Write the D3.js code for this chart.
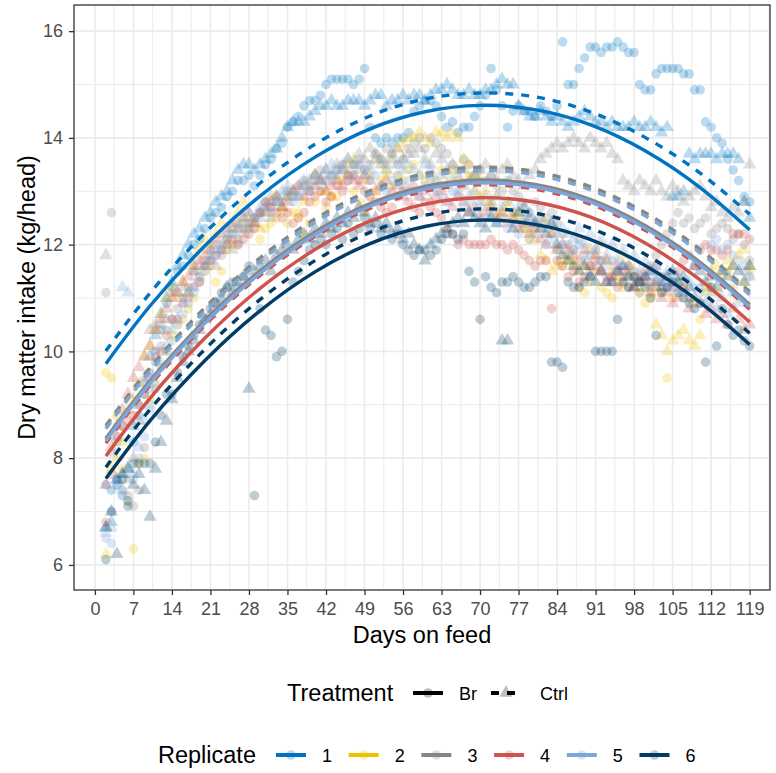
<!DOCTYPE html>
<html>
<head>
<meta charset="utf-8">
<script src="https://cdn.jsdelivr.net/npm/d3@7"></script>
<style>
  body { margin: 0; background: #fff; }
  text { font-family: "Liberation Sans", Arial, sans-serif; }
</style>
</head>
<body>
<div id="chart"></div>
<script>
// ---- data ----
const replicates = ["1", "2", "3", "4", "5", "6"];
const treatments = ["Br", "Ctrl"];
const repColors = ["#0073C2", "#EFC000", "#868686", "#CD534C", "#7AA6DC", "#003C67"];
const xTicks = [0, 7, 14, 21, 28, 35, 42, 49, 56, 63, 70, 77, 84, 91, 98, 105, 112, 119];
const yTicks = [6, 8, 10, 12, 14, 16];
const firstDay = 2; // daily observations start on day 2

// daily intake, days 2..119
const br1 = [7.5,7.4,7.5,7.3,7.2,8.3,8.8,9.2,9.6,10.0,10.4,10.9,11.2,11.5,
  11.6,11.8,12.0,12.1,12.3,12.5,12.6,12.7,12.9,13.0,13.2,13.2,13.3,13.1,
  13.3,13.5,13.6,13.8,13.9,14.2,14.3,14.4,14.6,14.7,14.7,14.8,15.0,15.1,
  15.1,15.1,15.1,15.0,15.1,15.3,14.2,14.0,13.9,14.0,13.9,14.0,14.0,14.1,
  14.5,14.6,14.7,14.7,14.6,14.4,14.2,14.3,14.1,14.2,14.2,14.4,14.6,14.8,
  15.3,14.9,14.6,14.2,14.5,14.6,14.5,14.5,14.4,14.6,14.5,14.4,14.6,15.8,
  15.0,15.0,15.3,15.5,15.7,15.7,15.6,15.7,15.7,15.8,15.7,15.6,15.6,15.0,
  14.9,14.9,15.2,15.3,15.3,15.3,15.3,15.2,15.2,14.9,14.9,14.3,14.2,14.0,
  13.9,13.6,13.4,13.2,12.9,12.8];
const ctrl1 = [6.7,6.8,7.6,7.7,7.8,8.6,9.0,9.4,9.9,10.3,10.7,11.0,11.3,11.6,
  11.8,12.0,12.2,12.3,12.5,12.6,12.8,12.9,13.0,13.2,13.4,13.5,13.5,13.4,
  13.5,13.6,13.7,13.8,14.0,14.2,14.3,14.3,14.3,14.4,14.5,14.6,14.6,14.7,
  14.6,14.6,14.7,14.7,14.7,14.6,14.7,14.8,14.8,14.6,14.7,14.7,14.8,14.7,
  14.8,14.8,14.7,14.8,14.9,14.9,15.0,14.9,14.8,14.8,14.9,14.8,14.8,14.9,
  14.9,15.0,15.1,15.0,15.0,14.6,14.5,14.4,14.4,14.5,14.4,14.3,14.4,14.3,
  14.2,14.3,14.4,14.5,14.4,14.3,14.3,14.2,14.3,14.2,14.2,14.2,14.3,14.2,
  14.2,14.3,14.2,14.1,14.2,12.9,12.9,13.0,13.7,13.6,13.7,13.7,13.7,13.6,
  13.7,13.7,13.7,13.6,12.8,12.5];
const br2 = [9.6,9.5,8.8,7.8,7.2,6.3,7.9,8.0,9.1,9.4,9.7,10.0,10.3,10.5,
  10.6,10.8,11.0,11.3,11.5,11.6,11.3,11.5,11.9,12.0,12.4,12.4,12.3,12.5,
  12.1,12.3,12.4,12.5,12.6,12.4,12.6,12.5,12.2,12.4,12.8,13.0,12.7,12.9,
  12.9,13.2,13.3,13.0,12.8,12.6,12.9,13.0,13.2,13.3,13.1,13.3,13.2,13.4,
  13.5,13.3,13.2,13.3,13.2,13.4,13.3,13.4,13.2,13.1,13.3,13.0,12.9,12.8,
  12.7,12.6,12.5,12.8,12.6,12.5,12.3,12.1,12.3,12.5,12.4,12.2,11.9,11.6,
  11.7,11.6,11.2,11.1,11.3,11.5,11.2,11.1,11.0,11.3,11.2,11.4,11.2,11.1,
  10.9,11.0,11.2,11.1,9.5,11.0,11.3,11.2,11.0,10.9,10.6,11.1,11.2,11.1,
  11.4,11.5,11.2,11.0,11.3,11.5];
const ctrl2 = [6.2,7.8,8.0,8.3,8.9,9.1,9.4,9.9,10.1,10.4,10.7,11.0,11.2,11.0,
  11.3,11.1,11.6,11.9,12.1,12.0,12.2,12.4,12.1,12.3,12.6,12.8,12.5,12.4,
  12.3,12.6,12.8,12.9,12.7,12.9,13.0,12.6,12.8,13.1,13.3,13.2,13.0,12.9,
  13.2,13.4,13.5,13.6,13.4,13.2,13.3,13.6,13.5,13.4,13.6,13.8,13.9,14.0,
  14.0,14.1,14.0,13.9,14.1,14.1,14.0,14.1,14.0,13.6,13.5,13.3,13.2,13.0,
  12.8,12.9,12.6,12.7,12.5,12.6,12.3,12.2,12.1,11.8,11.7,11.5,11.6,11.7,
  11.8,11.7,11.5,11.6,11.9,11.8,12.0,11.7,11.5,11.4,11.8,11.6,11.5,11.3,
  11.2,11.1,10.5,10.3,10.0,10.2,10.3,10.4,10.2,10.1,10.3,11.2,11.5,11.6,
  11.5,11.7,11.6,11.8,11.9,11.6];
const br3 = [11.1,12.6,8.3,8.6,7.3,7.1,7.4,8.2,9.3,9.8,10.1,10.4,10.6,10.8,
  11.0,11.2,11.5,11.4,11.7,11.9,12.0,11.8,12.1,12.2,12.0,12.3,12.4,12.5,
  12.6,12.8,12.7,12.9,12.8,13.0,12.9,13.1,13.2,13.0,13.3,13.4,13.2,13.3,
  13.4,13.5,13.3,13.5,13.6,13.4,13.5,13.7,13.6,13.8,13.7,13.5,13.6,13.8,
  13.9,14.0,13.8,14.0,13.9,13.8,13.7,13.5,13.4,13.6,13.5,13.3,13.4,13.2,
  13.3,13.1,13.0,13.2,13.0,12.9,12.8,12.6,12.8,12.7,12.5,12.6,12.4,12.2,
  12.0,11.9,12.1,11.8,11.5,11.6,11.7,11.4,11.3,11.5,11.4,11.2,11.3,11.1,
  11.4,11.6,11.8,12.0,12.2,12.4,12.6,12.4,12.5,12.3,12.4,12.5,12.2,12.3,
  12.4,12.3,12.1,12.2,12.0,11.7];
const ctrl3 = [11.8,8.1,8.4,7.4,7.6,8.0,8.7,9.5,10.4,10.5,10.5,10.6,11.1,11.1,
  11.2,11.1,11.6,11.6,11.6,11.7,11.6,11.9,12.0,11.9,12.1,12.2,12.3,12.4,
  12.5,12.6,12.5,12.8,12.7,12.9,13.0,12.9,13.1,13.2,13.3,13.2,13.4,13.3,
  13.5,13.4,13.6,13.5,13.7,13.6,13.8,13.7,13.6,13.5,13.7,13.8,13.6,13.7,
  13.7,13.8,13.6,13.5,13.7,13.6,13.4,13.5,13.3,13.4,13.2,13.3,13.4,13.5,
  13.3,13.2,13.4,13.5,13.3,13.2,13.1,13.3,13.4,13.6,13.7,13.8,13.9,13.8,
  13.9,14.0,13.9,13.8,14.0,13.9,13.8,13.9,13.7,13.6,13.2,13.1,13.0,13.2,
  13.1,13.0,13.2,13.0,12.9,13.1,13.0,12.8,12.9,13.0,13.1,12.9,12.7,12.8,
  12.6,12.5,12.7,12.6,12.8,13.5];
const br4 = [6.8,7.7,8.4,8.6,8.7,8.8,9.0,9.2,9.5,9.9,10.0,10.3,10.6,10.6,
  10.9,11.0,11.2,11.3,11.6,11.7,11.8,11.9,12.0,12.1,12.0,12.1,12.2,12.3,
  12.6,12.8,12.7,12.6,12.5,12.6,12.4,12.5,12.6,12.8,12.9,13.0,12.8,12.9,
  13.1,13.0,13.2,13.3,13.2,13.0,12.9,12.8,12.7,12.6,12.7,12.9,13.0,12.8,
  12.7,12.6,12.8,12.7,12.6,12.5,12.3,12.2,12.0,12.1,12.0,12.0,12.0,12.0,
  12.1,12.0,12.0,11.9,12.0,11.9,11.8,11.7,11.6,11.7,11.7,10.8,11.7,11.6,
  11.4,11.5,11.3,11.4,11.6,11.7,11.5,11.3,11.4,11.2,11.5,11.6,11.4,11.3,
  11.5,11.3,11.6,11.4,11.3,11.2,11.5,11.7,11.8,11.6,11.9,12.0,11.9,11.9,
  11.8,11.9,12.2,12.2,12.2,12.1];
const ctrl4 = [7.5,8.2,8.6,8.9,9.2,9.5,9.7,9.9,10.1,10.4,10.6,10.8,11.0,11.1,
  11.3,11.4,11.5,11.7,11.8,11.9,12.1,12.2,12.3,12.4,12.3,12.5,12.6,12.4,
  12.6,12.7,12.8,12.9,12.7,12.8,13.0,13.1,12.9,13.0,13.1,13.2,13.0,13.1,
  13.2,13.1,13.3,13.2,13.1,13.3,13.2,13.0,13.1,13.2,13.0,13.1,12.9,13.0,
  13.1,12.9,13.0,12.8,12.9,13.0,12.8,12.7,12.9,12.8,12.6,12.7,12.5,12.6,
  12.7,12.5,12.6,12.4,12.5,12.3,12.4,12.2,12.3,12.1,12.0,12.2,11.9,12.0,
  11.9,11.8,11.7,11.9,11.6,11.8,11.5,11.7,11.4,11.6,11.3,11.5,11.2,11.4,
  11.3,11.1,11.2,11.0,11.1,10.9,11.0,11.2,10.8,11.0,10.9,10.7,10.8,10.6,
  10.7,10.5,10.8,10.6,10.4,10.5];
const br5 = [6.5,6.4,7.5,7.4,7.2,7.6,8.0,8.4,8.9,9.3,9.7,10.0,10.2,10.5,
  10.7,10.9,11.1,11.3,11.5,11.7,11.8,11.9,12.1,12.2,12.3,12.4,12.3,12.5,
  12.6,12.7,12.6,12.8,12.9,13.0,12.8,12.9,13.1,13.0,13.2,13.1,13.3,13.2,
  13.3,13.4,13.2,13.3,13.5,13.4,13.2,13.3,13.1,13.0,13.2,13.3,13.1,13.2,
  13.0,12.9,13.1,13.2,13.0,12.9,12.8,13.0,12.9,12.7,12.8,12.6,12.7,12.5,
  12.6,12.4,12.5,12.3,12.4,12.2,12.3,12.1,12.2,12.4,12.0,12.1,11.9,12.0,
  11.8,11.9,12.0,11.7,11.8,11.9,11.7,11.6,11.7,11.5,11.6,11.4,11.5,11.3,
  11.4,11.2,11.5,11.3,11.2,11.4,11.3,11.1,11.0,11.2,11.1,10.9,12.0,12.1,
  11.9,12.0,11.8,11.7,11.5,11.4];
const ctrl5 = [6.6,6.7,7.6,11.2,11.1,7.7,8.2,8.7,9.0,9.4,9.8,10.1,10.4,10.6,
  10.9,11.1,11.2,11.4,11.6,11.8,11.9,12.0,12.2,12.3,12.4,12.5,12.6,12.5,
  12.7,12.8,12.9,12.8,13.0,13.1,12.9,13.0,13.2,13.1,13.3,13.2,13.4,13.5,
  13.4,13.5,13.6,13.4,13.5,13.3,13.4,13.6,13.5,13.4,13.6,13.5,13.4,13.5,
  13.4,13.3,13.5,13.4,13.2,13.3,13.1,13.2,13.0,13.1,12.9,13.0,12.8,12.9,
  12.8,12.9,12.7,12.8,12.6,12.7,12.5,12.6,12.4,12.5,12.3,12.4,12.2,12.3,
  12.2,12.1,12.3,12.0,12.2,11.9,12.1,11.8,12.0,11.7,11.9,11.6,11.8,11.5,
  11.7,11.4,11.6,11.3,11.5,11.2,11.4,11.1,11.3,11.0,11.2,10.9,11.1,10.8,
  11.0,10.7,11.1,10.9,11.6,11.4];
const br6 = [6.1,7.0,7.6,7.6,7.1,7.9,7.9,7.9,7.9,8.3,8.8,9.2,9.2,9.6,
  9.9,10.1,10.3,10.5,10.6,10.8,10.9,11.1,11.2,11.3,11.2,11.4,11.6,7.3,
  10.8,10.4,10.3,9.9,10.0,10.6,11.3,11.5,11.7,11.9,12.0,12.1,12.0,12.2,
  12.3,12.1,12.4,12.2,12.3,12.5,12.3,12.4,12.2,12.3,12.1,12.2,12.0,11.9,
  11.8,11.9,11.9,11.8,11.9,12.1,12.2,12.2,12.1,12.2,11.5,11.3,10.6,11.4,
  11.2,11.1,11.3,11.3,11.4,11.3,11.2,11.2,11.3,11.4,11.4,9.8,9.8,9.7,
  11.3,11.2,11.2,11.3,11.4,10.0,10.0,10.0,10.0,10.6,11.3,11.2,11.4,11.3,
  11.2,11.0,10.3,11.1,11.2,11.3,11.1,11.0,10.9,10.8,10.9,9.8,11.2,10.1,
  10.8,10.5,10.3,10.4,10.2,10.1];
const ctrl6 = [6.7,7.0,6.2,7.7,7.8,7.5,7.7,7.4,6.9,7.8,8.3,8.7,9.1,9.5,
  9.8,10.0,10.2,10.4,10.6,10.7,10.9,11.0,11.2,11.1,11.3,11.4,9.3,11.5,
  11.6,11.7,11.5,11.8,11.9,12.0,11.9,12.1,12.2,12.1,12.3,12.2,12.4,12.3,
  12.5,12.4,12.6,12.5,12.7,12.6,12.4,12.5,12.3,12.4,12.2,12.3,12.1,12.2,
  12.0,11.9,11.7,12.0,12.1,12.2,12.3,12.4,12.5,12.4,12.6,12.5,12.4,12.3,
  12.5,12.4,10.2,10.2,12.3,12.6,12.7,12.5,12.4,12.3,12.2,12.4,12.0,11.8,
  11.7,11.6,11.5,11.6,11.4,11.3,11.5,11.3,11.3,11.5,11.6,11.4,11.2,11.3,
  11.4,11.5,11.3,11.2,11.4,11.5,11.3,11.4,11.2,11.6,11.5,11.3,11.4,11.2,
  11.5,11.4,11.6,11.5,11.3,11.6];

// fitted curves, sampled at these days
const fitDays = [2, 10, 20, 30, 40, 50, 60, 70, 80, 90, 100, 110, 119];
const fitBr1 = [9.77,10.85,11.98,12.91,13.64,14.17,14.49,14.61,14.53,14.25,13.76,13.07,12.28];
const fitCtrl1 = [10.01,11.09,12.22,13.15,13.88,14.41,14.73,14.84,14.77,14.49,14.01,13.34,12.57];
const fitBr2 = [8.34,9.42,10.55,11.48,12.21,12.74,13.06,13.18,13.10,12.82,12.33,11.64,10.85];
const fitCtrl2 = [8.58,9.66,10.79,11.72,12.45,12.98,13.30,13.42,13.34,13.06,12.57,11.88,11.09];
const fitBr3 = [8.37,9.45,10.58,11.51,12.24,12.77,13.09,13.21,13.13,12.85,12.36,11.67,10.88];
const fitCtrl3 = [8.61,9.69,10.82,11.75,12.48,13.01,13.33,13.45,13.37,13.09,12.60,11.91,11.12];
const fitBr4 = [8.04,9.12,10.25,11.18,11.91,12.44,12.76,12.88,12.80,12.52,12.03,11.34,10.55];
const fitCtrl4 = [8.28,9.36,10.49,11.42,12.15,12.68,13.00,13.12,13.04,12.76,12.27,11.58,10.79];
const fitBr5 = [8.32,9.40,10.53,11.46,12.19,12.72,13.04,13.16,13.08,12.80,12.31,11.62,10.83];
const fitCtrl5 = [8.55,9.63,10.76,11.69,12.42,12.95,13.27,13.39,13.31,13.03,12.54,11.85,11.06];
const fitBr6 = [7.62,8.70,9.83,10.76,11.49,12.02,12.34,12.46,12.38,12.10,11.61,10.92,10.13];
const fitCtrl6 = [7.83,8.91,10.04,10.97,11.70,12.23,12.55,12.67,12.59,12.31,11.82,11.13,10.34];

const obs = [
  [br1, ctrl1], [br2, ctrl2], [br3, ctrl3], [br4, ctrl4], [br5, ctrl5], [br6, ctrl6]
];
const fits = [
  [fitBr1, fitCtrl1], [fitBr2, fitCtrl2], [fitBr3, fitCtrl3],
  [fitBr4, fitCtrl4], [fitBr5, fitCtrl5], [fitBr6, fitCtrl6]
];

// ---- layout ----
const W = 776, H = 773;
const panel = { left: 74, right: 770, top: 5, bottom: 590 };
const titleSize = "23.5px";

const svg = d3.select("#chart").append("svg")
  .attr("width", W).attr("height", H);

const x = d3.scaleLinear().domain([-3.8, 122.7]).range([panel.left, panel.right]);
const y = d3.scaleLinear().domain([5.53, 16.49]).range([panel.bottom, panel.top]);

// grid (minor half-way between the major ticks)
const grid = svg.append("g");
const xMinor = xTicks.slice(0, -1).map(d => d + 3.5).concat([122.5]);
const yMinor = [7, 9, 11, 13, 15];
grid.selectAll("line.xm").data(xMinor).join("line")
  .attr("x1", d => x(d)).attr("x2", d => x(d))
  .attr("y1", panel.top).attr("y2", panel.bottom)
  .attr("stroke", "#EBEBEB").attr("stroke-width", 1);
grid.selectAll("line.ym").data(yMinor).join("line")
  .attr("y1", d => y(d)).attr("y2", d => y(d))
  .attr("x1", panel.left).attr("x2", panel.right)
  .attr("stroke", "#EBEBEB").attr("stroke-width", 1);
grid.selectAll("line.xM").data(xTicks).join("line")
  .attr("x1", d => x(d)).attr("x2", d => x(d))
  .attr("y1", panel.top).attr("y2", panel.bottom)
  .attr("stroke", "#EBEBEB").attr("stroke-width", 1.6);
grid.selectAll("line.yM").data(yTicks).join("line")
  .attr("y1", d => y(d)).attr("y2", d => y(d))
  .attr("x1", panel.left).attr("x2", panel.right)
  .attr("stroke", "#EBEBEB").attr("stroke-width", 1.6);

const plot = svg.append("g");
const pointAlpha = 0.26;
const tri = d3.symbol().type(d3.symbolTriangle).size(78);

// points
obs.forEach((pair, r) => {
  pair.forEach((vals, t) => {
    const g = plot.append("g");
    const pts = vals.map((v, i) => ({ day: firstDay + i, v }));
    if (t === 0) {
      g.selectAll("circle").data(pts).join("circle")
        .attr("cx", d => x(d.day)).attr("cy", d => y(d.v)).attr("r", 4.8)
        .attr("fill", repColors[r]).attr("fill-opacity", pointAlpha);
    } else {
      g.selectAll("path").data(pts).join("path")
        .attr("d", tri)
        .attr("transform", d => `translate(${x(d.day)},${y(d.v)})`)
        .attr("fill", repColors[r]).attr("fill-opacity", pointAlpha);
    }
  });
});

// fitted lines
const line = d3.line()
  .x((d, i) => x(fitDays[i]))
  .y(d => y(d))
  .curve(d3.curveNatural);

fits.forEach((pair, r) => {
  pair.forEach((vals, t) => {
    plot.append("path")
      .datum(vals)
      .attr("d", line)
      .attr("fill", "none")
      .attr("stroke", repColors[r])
      .attr("stroke-width", 3.4)
      .attr("stroke-dasharray", t === 1 ? "8,8" : null);
  });
});

// panel border
svg.append("rect")
  .attr("x", panel.left).attr("y", panel.top)
  .attr("width", panel.right - panel.left).attr("height", panel.bottom - panel.top)
  .attr("fill", "none").attr("stroke", "#333333").attr("stroke-width", 1.3);

// axes
const xAxis = svg.append("g")
  .attr("transform", `translate(0,${panel.bottom})`)
  .call(d3.axisBottom(x).tickValues(xTicks).tickSize(5).tickPadding(7));
const yAxis = svg.append("g")
  .attr("transform", `translate(${panel.left},0)`)
  .call(d3.axisLeft(y).tickValues(yTicks).tickSize(5).tickPadding(6));
[xAxis, yAxis].forEach(a => {
  a.select(".domain").remove();
  a.selectAll(".tick line").attr("stroke", "#333333").attr("stroke-width", 1.3);
  a.selectAll(".tick text").attr("fill", "#4D4D4D")
    .style("font-size", "18px").style("font-family", "'Liberation Sans', Arial, sans-serif");
});

// axis titles
svg.append("text")
  .attr("x", (panel.left + panel.right) / 2).attr("y", 643)
  .attr("text-anchor", "middle").style("font-size", titleSize)
  .text("Days on feed");
svg.append("text")
  .attr("transform", `translate(35,${(panel.top + panel.bottom) / 2}) rotate(-90)`)
  .attr("text-anchor", "middle").style("font-size", titleSize)
  .text("Dry matter intake (kg/head)");

// ---- legends ----
const keyW = 30;
const legT = svg.append("g");
legT.append("text").attr("x", 287).attr("y", 701).style("font-size", titleSize).text("Treatment");
const tKeys = [
  { label: "Br", x0: 413, lx: 459, dash: null, shape: "circle" },
  { label: "Ctrl", x0: 491, lx: 540, dash: "8,8", shape: "triangle" }
];
tKeys.forEach(k => {
  legT.append("line")
    .attr("x1", k.x0).attr("x2", k.x0 + keyW).attr("y1", 693).attr("y2", 693)
    .attr("stroke", "#000").attr("stroke-width", 4)
    .attr("stroke-dasharray", k.dash);
  if (k.shape === "circle") {
    legT.append("circle").attr("cx", k.x0 + keyW / 2).attr("cy", 693).attr("r", 4.8)
      .attr("fill", "#000").attr("fill-opacity", pointAlpha);
  } else {
    legT.append("path").attr("d", tri)
      .attr("transform", `translate(${k.x0 + keyW / 2},693)`)
      .attr("fill", "#000").attr("fill-opacity", pointAlpha);
  }
  legT.append("text").attr("x", k.lx).attr("y", 700).style("font-size", "18px").text(k.label);
});

const legR = svg.append("g");
legR.append("text").attr("x", 158).attr("y", 763).style("font-size", titleSize).text("Replicate");
replicates.forEach((rep, i) => {
  const x0 = 276 + i * 72.7;
  legR.append("line")
    .attr("x1", x0).attr("x2", x0 + keyW).attr("y1", 755).attr("y2", 755)
    .attr("stroke", repColors[i]).attr("stroke-width", 4);
  legR.append("circle").attr("cx", x0 + keyW / 2).attr("cy", 755).attr("r", 4.8)
    .attr("fill", repColors[i]).attr("fill-opacity", pointAlpha);
  legR.append("text").attr("x", x0 + 46).attr("y", 762).style("font-size", "18px").text(rep);
});
</script>
</body>
</html>
